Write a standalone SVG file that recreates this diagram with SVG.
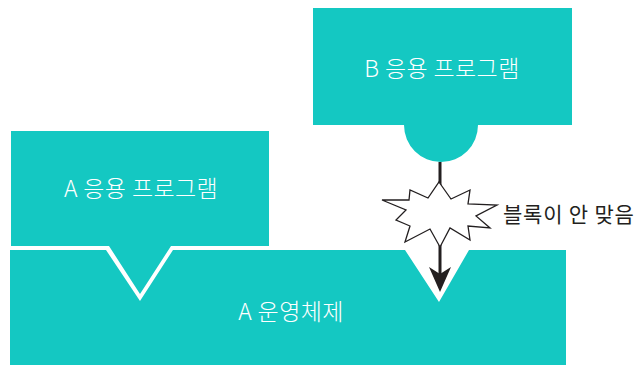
<svg xmlns="http://www.w3.org/2000/svg" width="643" height="365" viewBox="0 0 643 365">
<defs>
<style>
.box{fill:#14c8c2;}
.lbl{font-family:"Noto Sans CJK KR","Noto Sans",sans-serif;font-size:23px;letter-spacing:0.4px;fill:#ffffff;text-anchor:middle;font-weight:300;}
.note{font-family:"Noto Sans CJK KR","Noto Sans",sans-serif;font-size:21px;letter-spacing:0.8px;fill:#231f20;}
</style>
</defs>
<rect width="643" height="365" fill="#ffffff"/>
<g id="os">
<polygon class="box" points="10,250 106,250 140,301 173,250 405,250 439,302 469,250 566,250 566,365 10,365"/>
<text class="lbl" x="291" y="320">A 운영체제</text>
</g>
<g id="app-a">
<polygon class="box" points="11,131 269,131 269,246 171,246 140,294 109,246 11,246"/>
<text class="lbl" x="141" y="197">A 응용 프로그램</text>
</g>
<g id="app-b">
<path class="box" d="M313,8 H572 V125 H478 A37,37 0 0 1 404,125 H313 Z"/>
<text class="lbl" x="442" y="77">B 응용 프로그램</text>
</g>
<g id="connectors">
<line x1="440" y1="162" x2="440" y2="274" stroke="#231f20" stroke-width="3"/>
<polygon points="440,292 429,267 440,274 451,267" fill="#231f20"/>
</g>
<g id="clash">
<polygon points="439,182 451,199 470,190 468,204 497,205 476,216 490,228 468,226 470,240 450,228 440,247 430,229 405,242 410,226 396,220 406,210 382,200 409,200 410,190 428,198" fill="#ffffff" stroke="#231f20" stroke-width="1.3" stroke-linejoin="miter"/>
<text class="note" x="503" y="222">블록이 안 맞음</text>
</g>
</svg>
